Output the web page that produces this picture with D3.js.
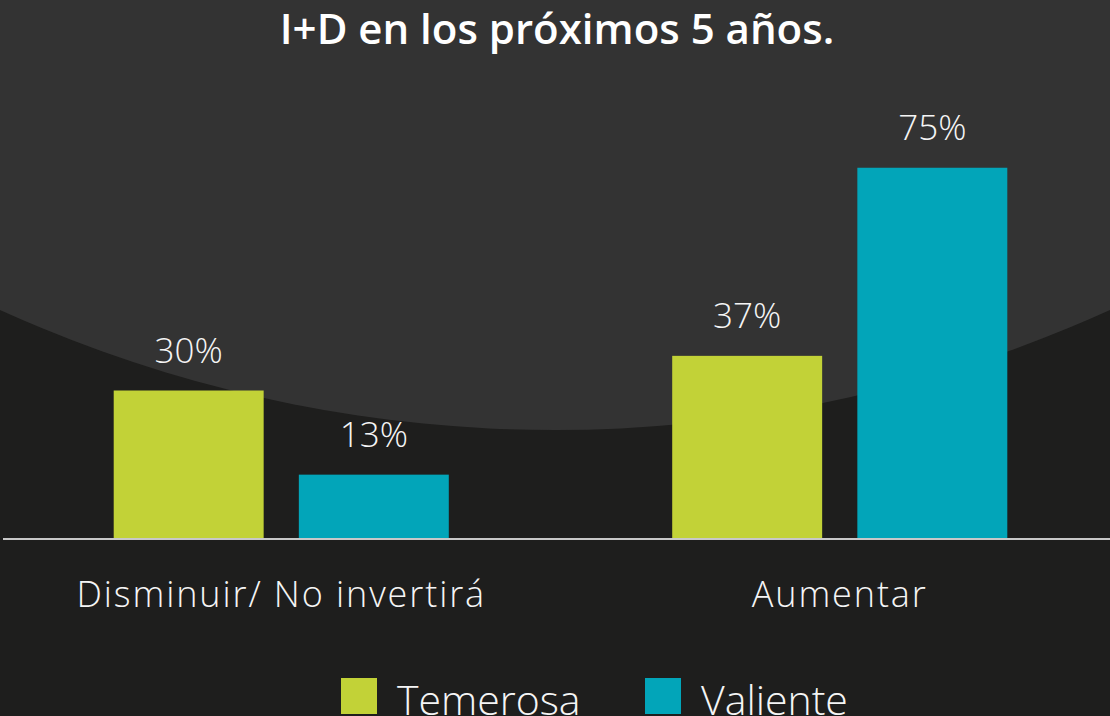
<!DOCTYPE html>
<html>
<head>
<meta charset="utf-8">
<script src="https://cdn.jsdelivr.net/npm/d3@7"></script>
<style>
  html, body { margin: 0; padding: 0; background: #1e1e1d; }
  svg { display: block; font-family: "Open Sans", sans-serif; }
</style>
</head>
<body>
<svg id="chart"></svg>
<script>

/////////////////////////////////
// DATA
//////////////////////////////////

var categories = ["Disminuir/ No invertirá", "Aumentar"];
var seriesNames = ["Temerosa", "Valiente"];
var temerosa = [30, 37];
var valiente = [13, 75];
var seriesColors = ["#c2d237", "#02a5b9"];
var titleText = "I+D en los próximos 5 años.";


/////////////////////////////////
// SET STATIC VARIABLES
//////////////////////////////////

var width = 1110;
var height = 716;
var baseY = 539;

var svg = d3.select("#chart")
    .attr("width", width)
    .attr("height", height);

// background + big lighter circle behind the top
svg.append("rect")
    .attr("width", width)
    .attr("height", height)
    .attr("fill", "#1e1e1d");

svg.append("circle")
    .attr("cx", 555)
    .attr("cy", -913)
    .attr("r", 1343)
    .attr("fill", "#333333");

// rows for the bars
var rows = [];
categories.forEach(function(c, i) {
    rows.push({ cat: c, values: [
        { key: seriesNames[0], value: temerosa[i] },
        { key: seriesNames[1], value: valiente[i] }
    ]});
});


/////////////////////////////////
// MAKE SCALES
//////////////////////////////////

var x0 = d3.scaleBand()
    .domain(categories)
    .range([2, 1119])
    .paddingInner(0.4)
    .paddingOuter(0.2);

var x1 = d3.scaleBand()
    .domain(seriesNames)
    .range([0, x0.bandwidth()])
    .paddingInner(0.19);

var y = d3.scaleLinear()
    .domain([0, 100])
    .range([baseY, 44]);

var color = d3.scaleOrdinal()
    .domain(seriesNames)
    .range(seriesColors);


/////////////////////////////////
// DRAW BARS
//////////////////////////////////

var groups = svg.selectAll(".group")
    .data(rows)
    .enter().append("g")
    .attr("class", "group")
    .attr("transform", function(d) { return "translate(" + x0(d.cat) + ",0)"; });

groups.selectAll("rect")
    .data(function(d) { return d.values; })
    .enter().append("rect")
    .attr("x", function(d) { return x1(d.key); })
    .attr("y", function(d) { return y(d.value); })
    .attr("width", x1.bandwidth())
    .attr("height", function(d) { return baseY - y(d.value); })
    .attr("fill", function(d) { return color(d.key); });

groups.selectAll(".valLabel")
    .data(function(d) { return d.values; })
    .enter().append("text")
    .attr("class", "valLabel")
    .attr("x", function(d) { return x1(d.key) + x1.bandwidth() / 2; })
    .attr("y", function(d) { return y(d.value) - 28; })
    .attr("text-anchor", "middle")
    .attr("fill", "#f5f5f5")
    .attr("font-size", 35)
    .attr("font-weight", 300)
    .text(function(d) { return d.value + "%"; });

// baseline
svg.append("line")
    .attr("x1", 3)
    .attr("x2", width)
    .attr("y1", baseY)
    .attr("y2", baseY)
    .attr("stroke", "#c8c8c8")
    .attr("stroke-width", 2);

// category labels
svg.selectAll(".catLabel")
    .data(categories)
    .enter().append("text")
    .attr("class", "catLabel")
    .attr("x", function(d) { return x0(d) + x0.bandwidth() / 2; })
    .attr("y", 607)
    .attr("text-anchor", "middle")
    .attr("fill", "#f5f5f5")
    .attr("font-size", 36)
    .attr("font-weight", 350)
    .attr("letter-spacing", 1.9)
    .text(function(d) { return d; });


/////////////////////////////////
// TITLE + LEGEND
//////////////////////////////////

svg.append("text")
    .attr("x", 557)
    .attr("y", 44)
    .attr("text-anchor", "middle")
    .attr("fill", "#ffffff")
    .attr("font-size", 42)
    .attr("font-weight", 600)
    .text(titleText);

var legendX = [341, 645];

var legend = svg.selectAll(".legend")
    .data(seriesNames)
    .enter().append("g")
    .attr("class", "legend")
    .attr("transform", function(d, i) { return "translate(" + legendX[i] + ",678)"; });

legend.append("rect")
    .attr("width", 36)
    .attr("height", 36)
    .attr("fill", function(d) { return color(d); });

legend.append("text")
    .attr("x", 56)
    .attr("y", 37)
    .attr("fill", "#f5f5f5")
    .attr("font-size", 41)
    .attr("font-weight", 300)
    .text(function(d) { return d; });

</script>
</body>
</html>
